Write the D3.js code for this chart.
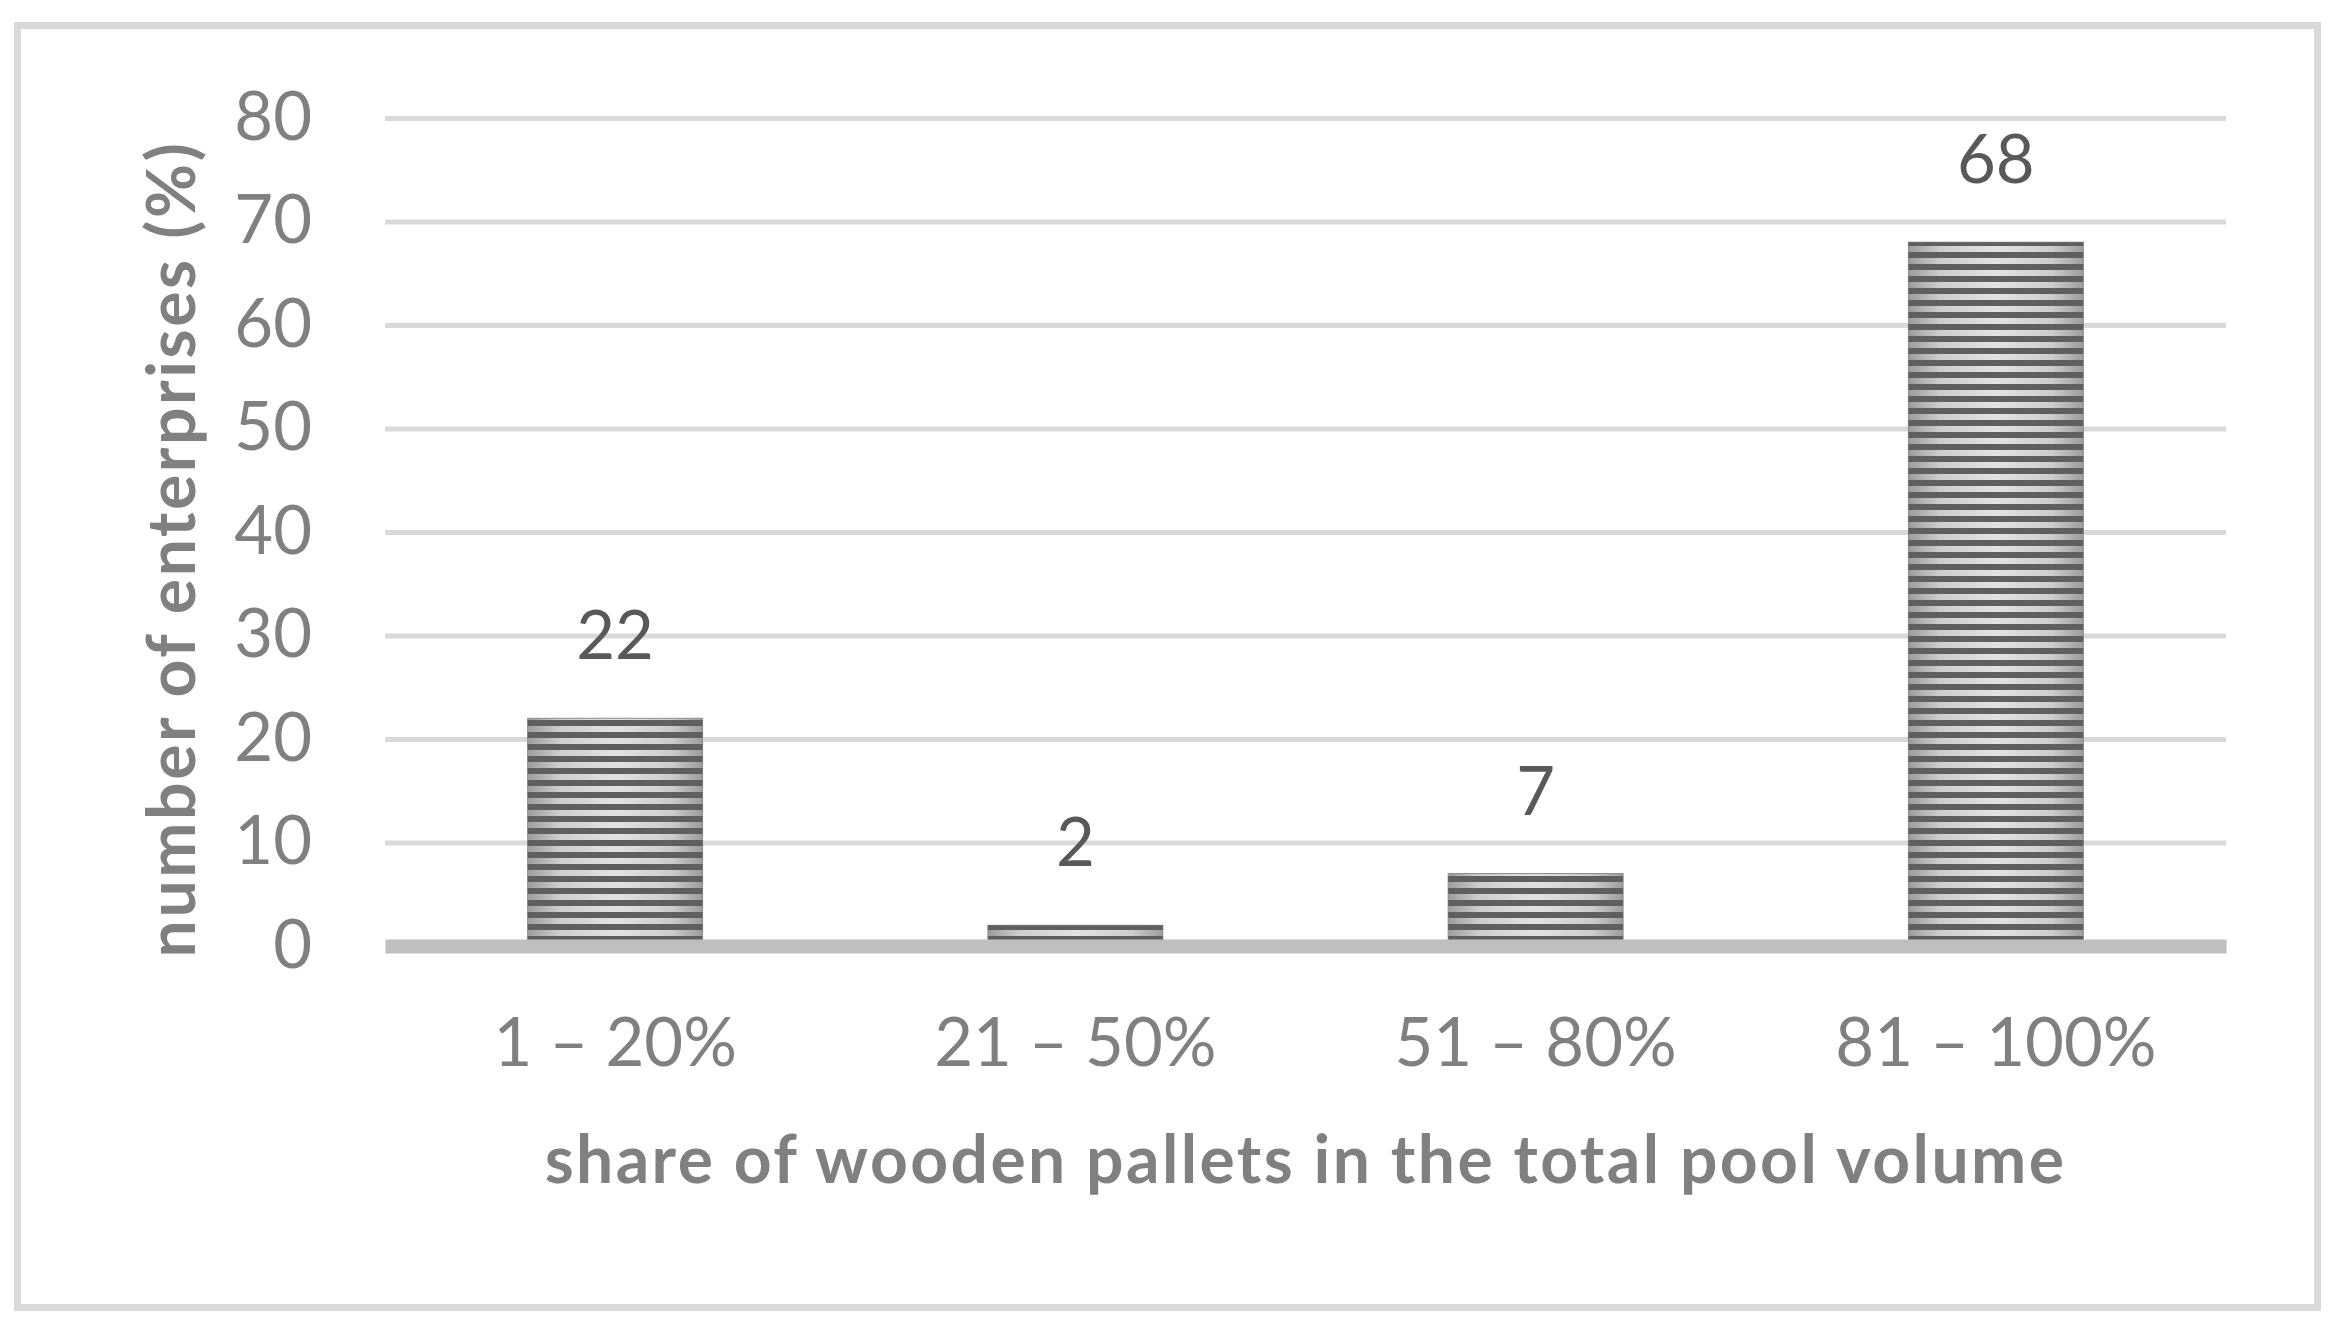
<!DOCTYPE html>
<html lang="en">
<head>
    <meta charset="UTF-8" />
    <title>Share of wooden pallets</title>
    <script src="https://cdn.jsdelivr.net/npm/d3@7"></script>
    <style>
        body { margin: 0; background: #fff; }
        text { font-family: Lato, "Open Sans", sans-serif; }
    </style>
</head>
<body>
    <div id="chart"></div>
    <script>
        // data
        const categories = ["1 – 20%", "21 – 50%", "51 – 80%", "81 – 100%"];
        const values = [22, 2, 7, 68];
        const yTicks = [0, 10, 20, 30, 40, 50, 60, 70, 80];
        const xTitle = "share of wooden pallets in the total pool volume";
        const yTitle = "number of enterprises (%)";

        const W = 2339, H = 1326;
        const margin = { top: 118, right: 113, bottom: 380, left: 385 },
            width = W - margin.left - margin.right,
            height = H - margin.top - margin.bottom;

        const root = d3.select("#chart").append("svg")
            .attr("width", W)
            .attr("height", H);

        // outer frame
        root.append("rect")
            .attr("x", 17.5).attr("y", 25.5)
            .attr("width", 2300).attr("height", 1282)
            .attr("fill", "#fff")
            .attr("stroke", "#d9d9d9")
            .attr("stroke-width", 7);

        // bar fill: horizontal shading + dark stripes
        const defs = root.append("defs");
        const grad = defs.append("linearGradient").attr("id", "shade")
            .attr("x1", "0%").attr("x2", "100%").attr("y1", "0%").attr("y2", "0%");
        grad.append("stop").attr("offset", "0%").attr("stop-color", "#9c9c9c");
        grad.append("stop").attr("offset", "18%").attr("stop-color", "#cdcdcd");
        grad.append("stop").attr("offset", "50%").attr("stop-color", "#e2e2e2");
        grad.append("stop").attr("offset", "82%").attr("stop-color", "#cdcdcd");
        grad.append("stop").attr("offset", "100%").attr("stop-color", "#9c9c9c");

        const stripes = defs.append("pattern").attr("id", "stripes")
            .attr("patternUnits", "userSpaceOnUse")
            .attr("width", 20).attr("height", 12);
        stripes.append("rect")
            .attr("x", 0).attr("y", 2).attr("width", 20).attr("height", 6)
            .attr("fill", "#5f5f5f");

        const svg = root.append("g")
            .attr("transform", `translate(${margin.left},${margin.top})`);

        const x = d3.scaleBand()
            .domain(categories)
            .range([0, width])
            .paddingInner(0.62)
            .paddingOuter(0.31);

        const y = d3.scaleLinear()
            .domain([0, 80])
            .range([height, 0]);

        // gridlines
        svg.append("g")
            .attr("class", "grid")
            .call(d3.axisLeft(y).tickValues(yTicks.slice(1)).tickSize(-width).tickFormat(""))
            .call(g => g.select(".domain").remove())
            .call(g => g.selectAll("line").attr("stroke", "#d9d9d9").attr("stroke-width", 5));

        // y tick labels
        svg.append("g")
            .call(d3.axisLeft(y).tickValues(yTicks).tickSize(0).tickPadding(73))
            .call(g => g.select(".domain").remove())
            .call(g => g.selectAll("text")
                .attr("fill", "#808080")
                .style("font-size", "67px"));

        // bars
        const bars = svg.append("g").selectAll("g")
            .data(values)
            .join("g");
        bars.append("rect")
            .attr("x", (d, i) => x(categories[i]))
            .attr("y", d => y(d))
            .attr("width", x.bandwidth())
            .attr("height", d => y(0) - y(d))
            .attr("fill", "url(#shade)")
            .attr("stroke", "#8c8c8c")
            .attr("stroke-width", 1);
        bars.append("rect")
            .attr("x", (d, i) => x(categories[i]))
            .attr("y", d => y(d))
            .attr("width", x.bandwidth())
            .attr("height", d => y(0) - y(d))
            .attr("fill", "url(#stripes)");

        // data labels
        svg.append("g").selectAll("text")
            .data(values)
            .join("text")
            .attr("x", (d, i) => x(categories[i]) + x.bandwidth() / 2)
            .attr("y", d => y(d) - 59)
            .attr("text-anchor", "middle")
            .attr("fill", "#595959")
            .style("font-size", "67px")
            .text(d => d);

        // x axis baseline + category labels
        svg.append("g")
            .attr("transform", `translate(0,${y(0)})`)
            .call(d3.axisBottom(x).tickSize(0))
            .call(g => g.select(".domain")
                .attr("stroke", "#bfbfbf")
                .attr("stroke-width", 14))
            .call(g => g.selectAll("text")
                .attr("y", 120)
                .attr("dy", null)
                .attr("fill", "#808080")
                .style("font-size", "67px"));

        // axis titles
        svg.append("text")
            .attr("x", width / 2)
            .attr("y", 1183 - margin.top)
            .attr("text-anchor", "middle")
            .attr("fill", "#808080")
            .style("font-size", "66px")
            .style("font-weight", "bold")
            .style("letter-spacing", "2.4px")
            .text(xTitle);

        svg.append("text")
            .attr("transform", `translate(${195 - margin.left},${549 - margin.top}) rotate(-90)`)
            .attr("text-anchor", "middle")
            .attr("fill", "#808080")
            .style("font-size", "66px")
            .style("font-weight", "bold")
            .style("letter-spacing", "2.6px")
            .text(yTitle);
    </script>
</body>
</html>
